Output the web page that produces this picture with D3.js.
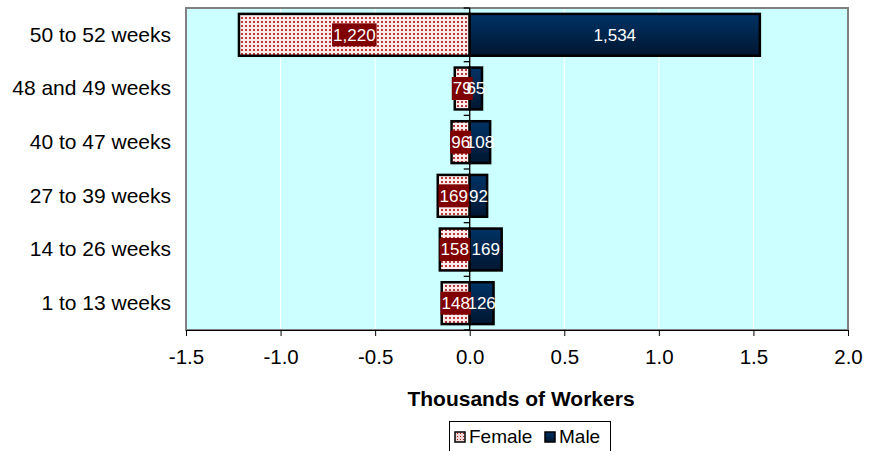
<!DOCTYPE html>
<html><head><meta charset="utf-8">
<script src="https://cdn.jsdelivr.net/npm/d3@7"></script>
<style>body{margin:0;background:#fff;}svg{display:block;font-family:"Liberation Sans",Arial,sans-serif;}</style>
</head><body>
<svg id="c" width="885" height="451"></svg>
<script>
const categories = ["50 to 52 weeks","48 and 49 weeks","40 to 47 weeks","27 to 39 weeks","14 to 26 weeks","1 to 13 weeks"];
const female = [1220, 79, 96, 169, 158, 148];
const male = [1534, 65, 108, 92, 169, 126];
const xTicks = [-1.5,-1.0,-0.5,0.0,0.5,1.0,1.5,2.0];
const seriesNames = ["Female","Male"];
const xTitle = "Thousands of Workers";

const svg = d3.select("#c");
const L=186, R=848, T=8, B=330;
const x = d3.scaleLinear().domain([-1.5,2.0]).range([L,R]);
const y = d3.scaleBand().domain(categories).range([T,B]).paddingInner(0.22).paddingOuter(0.11);

const defs = svg.append("defs");
const pat = defs.append("pattern").attr("id","fpat").attr("patternUnits","userSpaceOnUse").attr("width",4).attr("height",4);
pat.append("rect").attr("width",4).attr("height",4).attr("fill","#fbeaea");
pat.append("rect").attr("x",1).attr("y",1).attr("width",2).attr("height",2).attr("fill","#b83a3a");
const lpat = defs.append("pattern").attr("id","lpat").attr("patternUnits","userSpaceOnUse").attr("width",3).attr("height",3);
lpat.append("rect").attr("width",3).attr("height",3).attr("fill","#f4d8d8");
lpat.append("rect").attr("x",1).attr("y",1).attr("width",1).attr("height",1).attr("fill","#a02020");
const grad = defs.append("linearGradient").attr("id","mgrad").attr("x1",0).attr("y1",0).attr("x2",0).attr("y2",1);
grad.append("stop").attr("offset","0%").attr("stop-color","#003366");
grad.append("stop").attr("offset","100%").attr("stop-color","#001630");

// plot background
svg.append("rect").attr("x",L).attr("y",T).attr("width",R-L).attr("height",B-T).attr("fill","#ccffff");
// gridlines
svg.append("g").selectAll("line").data(xTicks).join("line")
  .attr("x1",d=>x(d)).attr("x2",d=>x(d)).attr("y1",T).attr("y2",B)
  .attr("stroke","#ffffff").attr("stroke-width",1);
// border
svg.append("rect").attr("x",L).attr("y",T).attr("width",R-L).attr("height",B-T).attr("fill","none").attr("stroke","#808080").attr("stroke-width",2);

// x axis
const xa = svg.append("g").attr("transform",`translate(0,${B})`)
  .call(d3.axisBottom(x).tickValues(xTicks).tickFormat(d=>d3.format(".1f")(d).replace("\u2212","-")).tickSize(6).tickPadding(13));
xa.select(".domain").attr("stroke","#000");
xa.selectAll(".tick line").attr("stroke","#000");
xa.selectAll("text").attr("font-size",20.5).attr("fill","#000").attr("font-family","Liberation Sans, Arial, sans-serif");

// category labels
const ya = svg.append("g").attr("transform",`translate(${L},0)`)
  .call(d3.axisLeft(y).tickSize(0).tickPadding(15));
ya.select(".domain").remove();
ya.selectAll("text").attr("font-size",21).attr("fill","#000").attr("font-family","Liberation Sans, Arial, sans-serif");

// bars
const g = svg.append("g");
g.selectAll("rect.f").data(categories).join("rect").attr("class","f")
  .attr("x",(d,i)=>x(-female[i]/1000)).attr("y",d=>y(d))
  .attr("width",(d,i)=>x(0)-x(-female[i]/1000)).attr("height",y.bandwidth())
  .attr("fill","url(#fpat)").attr("stroke","#000").attr("stroke-width",2.5);
g.selectAll("rect.m").data(categories).join("rect").attr("class","m")
  .attr("x",x(0)).attr("y",d=>y(d))
  .attr("width",(d,i)=>x(male[i]/1000)-x(0)).attr("height",y.bandwidth())
  .attr("fill","url(#mgrad)").attr("stroke","#000").attr("stroke-width",2.5);

// zero axis line with ticks at band boundaries
const bounds = d3.range(categories.length+1).map(i=>T+i*(B-T)/categories.length);
svg.append("line").attr("x1",x(0)).attr("x2",x(0)).attr("y1",T).attr("y2",B).attr("stroke","#000").attr("stroke-width",1.3);
svg.append("g").selectAll("line").data(bounds).join("line")
  .attr("x1",x(0)-6).attr("x2",x(0)).attr("y1",d=>d).attr("y2",d=>d).attr("stroke","#000").attr("stroke-width",1.3);

// labels
const fmt = d3.format(",");
const fl = svg.append("g");
categories.forEach((c,i)=>{
  const cx = (x(-female[i]/1000)+x(0))/2;
  const cy = y(c)+y.bandwidth()/2;
  const t = fl.append("text").attr("x",cx).attr("y",cy).attr("dy","0.35em").attr("text-anchor","middle")
    .attr("font-size",17).attr("fill","#fff").text(fmt(female[i]));
  const bb = t.node().getBBox();
  fl.insert("rect","text").attr("x",bb.x-1).attr("y",cy-11.5).attr("width",bb.width+2).attr("height",23).attr("fill","#800000");
  const mx = (x(0)+x(male[i]/1000))/2;
  fl.append("text").attr("x",mx).attr("y",cy).attr("dy","0.35em").attr("text-anchor","middle")
    .attr("font-size",17).attr("fill","#fff").text(fmt(male[i]));
});

// axis title
svg.append("text").attr("x",(L+R)/2+4).attr("y",406).attr("text-anchor","middle")
  .attr("font-size",21).attr("font-weight","bold").attr("fill","#000").text(xTitle);

// legend
const lg = svg.append("g");
lg.append("rect").attr("x",449.5).attr("y",421.5).attr("width",161).attr("height",32).attr("fill","#fff").attr("stroke","#000").attr("stroke-width",1);
const items = [{n:seriesNames[0],fill:"url(#lpat)",x:455},{n:seriesNames[1],fill:"url(#mgrad)",x:545}];
items.forEach(it=>{
  lg.append("rect").attr("x",it.x).attr("y",432).attr("width",10).attr("height",10).attr("fill",it.fill).attr("stroke","#000").attr("stroke-width",1.5);
  lg.append("text").attr("x",it.x+14).attr("y",443).attr("font-size",19).attr("fill","#000").text(it.n);
});
</script>
</body></html>
